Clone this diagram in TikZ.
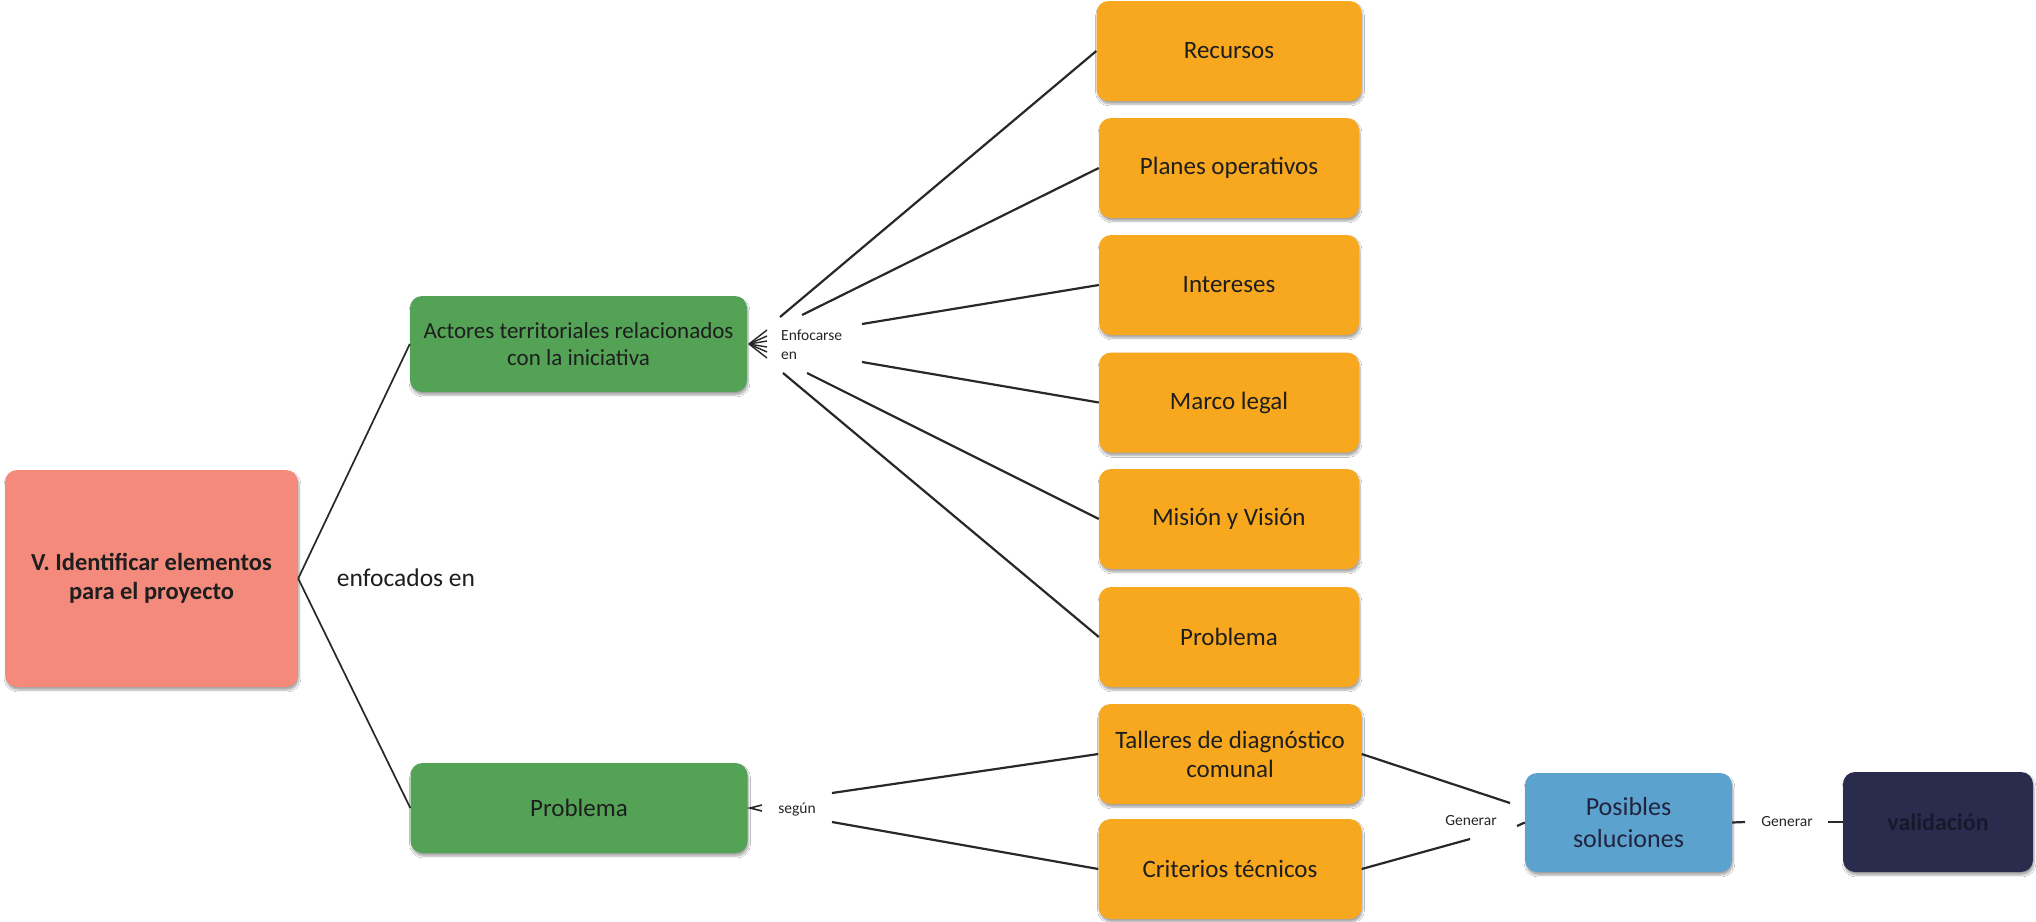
\documentclass[tikz,border=0pt]{standalone}
\usepackage{fontspec}
\setmainfont{Carlito}
\usetikzlibrary{shadows.blur,arrows.meta}
\definecolor{salmon}{RGB}{244,138,124}
\definecolor{leaf}{RGB}{84,162,86}
\definecolor{amber}{RGB}{248,168,30}
\definecolor{sky}{RGB}{92,162,206}
\definecolor{navy}{RGB}{42,44,78}
\definecolor{ink}{RGB}{30,30,30}
\definecolor{wire}{RGB}{40,40,40}
\tikzset{
  box/.style={rounded corners=12pt, inner sep=4pt, align=center, text=ink,
    blur shadow={shadow xshift=1pt, shadow yshift=-3pt, shadow blur steps=6, shadow opacity=35}},
  rootbox/.style={box, fill=salmon, minimum width=293pt, minimum height=217pt,
    font=\fontsize{24.5}{29}\selectfont\bfseries},
  greenbox/.style={box, fill=leaf, minimum width=337pt, minimum height=96pt},
  orangebox/.style={box, fill=amber, minimum width=260pt, minimum height=100pt,
    font=\fontsize{25}{29}\selectfont},
  bluebox/.style={box, fill=sky, minimum width=207pt, minimum height=99pt,
    text=navy!80!black, font=\fontsize{26}{32}\selectfont},
  darkbox/.style={box, fill=navy, minimum width=190pt, minimum height=100pt,
    text=navy!55!black, font=\fontsize{24}{28}\selectfont\bfseries},
  linkword/.style={inner sep=0pt, text=black!85, font=\fontsize{15.5}{19}\selectfont},
  wirestyle/.style={draw=wire, line width=2.2pt},
}
\begin{document}
\begin{tikzpicture}[x=1pt, y=-1pt]
\useasboundingbox (0,0) rectangle (2036,921);
\fill[white] (0,0) rectangle (2036,921);

% concepts
\node[rootbox] (root) at (151.5,578.5) {V. Identificar elementos\\para el proyecto};
\node[inner sep=0pt, text=ink, font=\fontsize{25.5}{30}\selectfont] (enfocados) at (406,578) {enfocados en};

\node[greenbox, font=\fontsize{23}{27}\selectfont] (actores) at (578.5,344)
  {Actores territoriales relacionados\\con la iniciativa};
\node[greenbox, minimum height=90pt, font=\fontsize{25}{29}\selectfont] (probg) at (579,808) {Problema};

\node[orangebox, minimum width=265pt] (recursos) at (1229,51) {Recursos};
\node[orangebox] (planes)   at (1229,168)   {Planes operativos};
\node[orangebox] (intereses) at (1229,285)  {Intereses};
\node[orangebox] (marco)    at (1229,402.5) {Marco legal};
\node[orangebox] (mision)   at (1229,519)   {Misión y Visión};
\node[orangebox] (probo)    at (1229,637)   {Problema};
\node[orangebox, minimum width=263pt] (talleres) at (1230,754) {Talleres de diagnóstico\\comunal};
\node[orangebox, minimum width=263pt] (criterios) at (1230,869)  {Criterios técnicos};

\node[bluebox] (posibles) at (1628.5,822.5) {Posibles\\soluciones};
\node[darkbox] (valida) at (1938,822) {validación};

% linking words
\node[linkword, anchor=west, align=left] (enfocarse) at (781,345) {Enfocarse\\en};
\node[linkword] (segun) at (797,810) {según};
\node[linkword] (gen1) at (1471,821) {Generar};
\node[linkword] (gen2) at (1787,822) {Generar};

% free ends of the connectors next to the linking words
\coordinate (e1) at (780,317);
\coordinate (e2) at (802,315);
\coordinate (e3) at (862,324);
\coordinate (e4) at (862,362);
\coordinate (e5) at (807,373);
\coordinate (e6) at (783,373);
\coordinate (s1) at (832,793);
\coordinate (s2) at (832,822);
\coordinate (g1a) at (1510,803);
\coordinate (g1b) at (1470,839);
\coordinate (g1c) at (1517,826);
\coordinate (g2a) at (1745,822);
\coordinate (g2b) at (1828,822);
\coordinate (fan1) at (767,330);
\coordinate (fan2) at (767,336);
\coordinate (fan3) at (767,341);
\coordinate (fan4) at (767,347);
\coordinate (fan5) at (767,352);
\coordinate (fan6) at (767,358);
\coordinate (tip) at (749,344);
\coordinate (sg1) at (762,805);
\coordinate (sg2) at (762,811);
\coordinate (sgtip) at (750,808);

% connectors
\draw[wirestyle, line width=1.7pt] (root.east) -- (actores.west);
\draw[wirestyle, line width=1.7pt] (root.east) -- (probg.west);

\draw[wirestyle] (e1) -- (recursos.west);
\draw[wirestyle] (e2) -- (planes.west);
\draw[wirestyle] (e3) -- (intereses.west);
\draw[wirestyle] (e4) -- (marco.west);
\draw[wirestyle] (e5) -- (mision.west);
\draw[wirestyle] (e6) -- (probo.west);
\foreach \f in {fan1,fan2,fan3,fan4,fan5,fan6}
  \draw[wire, line width=1.4pt] (\f) -- (tip);

\draw[wirestyle] (s1) -- (talleres.west);
\draw[wirestyle] (s2) -- (criterios.west);
\draw[wire, line width=1.6pt] (sg1) -- (sgtip) -- (sg2);

\draw[wirestyle] (talleres.east) -- (g1a);
\draw[wirestyle] (criterios.east) -- (g1b);
\draw[wirestyle] (g1c) -- (posibles.west);
\draw[wirestyle] (posibles.east) -- (g2a);
\draw[wirestyle] (g2b) -- (valida.west);
\end{tikzpicture}
\end{document}
